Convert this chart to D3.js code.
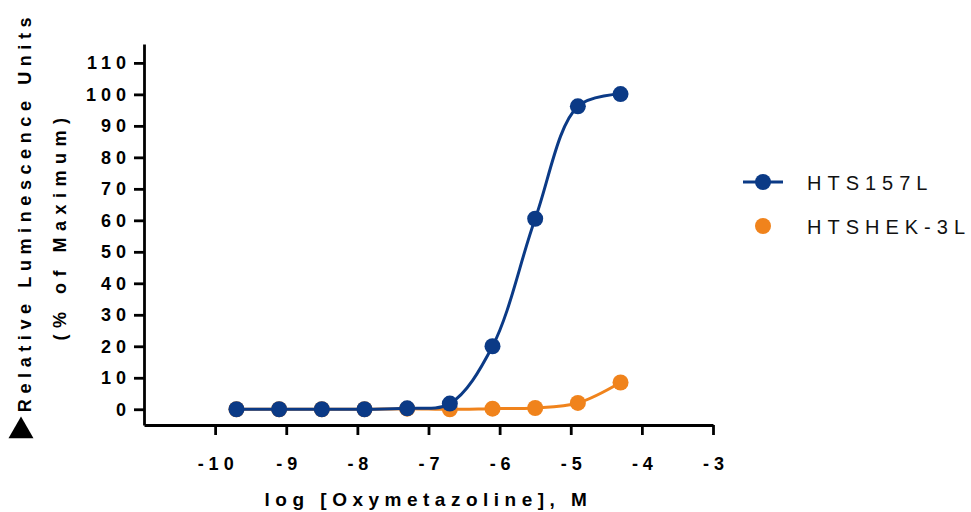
<!DOCTYPE html>
<html>
<head>
<meta charset="utf-8">
<script src="https://cdn.jsdelivr.net/npm/d3@7"></script>
<style>
  body { margin: 0; background: #fff; }
  svg { display: block; font-family: Arial, "Liberation Sans", sans-serif; }
</style>
</head>
<body>
<div id="chart"></div>
<script>
// log concentrations (M) and responses, % of maximum
const logDose = [-9.7, -9.1, -8.5, -7.9, -7.3, -6.7, -6.1, -5.5, -4.9, -4.3];
const hts157L = [0, 0, 0, 0, 0.3, 1.8, 20, 60.5, 96.2, 100.1];
const htsHek3L = [0, 0, 0, 0, 0.2, 0, 0.2, 0.4, 2.0, 8.5];
const xTicks = [-10, -9, -8, -7, -6, -5, -4, -3];
const yTicks = [0, 10, 20, 30, 40, 50, 60, 70, 80, 90, 100, 110];
const seriesNames = ["HTS157L", "HTSHEK-3L"];
const colors = ["#0b3a86", "#f0831c"];

const W = 971, H = 512;
const svg = d3.select("#chart").append("svg")
    .attr("width", W)
    .attr("height", H);

const x = d3.scaleLinear().domain([-11, -3]).range([144, 713]);
const y = d3.scaleLinear().domain([-5, 116]).range([425, 44]);

// axes
const xAxis = svg.append("g")
    .attr("transform", `translate(0,${y(-5)})`)
    .call(d3.axisBottom(x).tickValues(xTicks).tickSize(10).tickSizeOuter(0).tickPadding(22)
        .tickFormat(d3.format("d")));
const yAxis = svg.append("g")
    .attr("transform", `translate(${x(-11)},0)`)
    .call(d3.axisLeft(y).tickValues(yTicks).tickSize(10).tickSizeOuter(0).tickPadding(8));

[xAxis, yAxis].forEach(g => {
    g.select(".domain").attr("stroke", "#000").attr("stroke-width", 2.8);
    g.selectAll(".tick line").attr("stroke", "#000").attr("stroke-width", 2.8);
    g.selectAll(".tick text")
        .attr("fill", "#000")
        .style("font-size", "18px")
        .style("font-weight", "bold")
        .style("letter-spacing", "5px")
        .style("font-family", "Arial, 'Liberation Sans', sans-serif");
});
xAxis.selectAll(".tick text").attr("dx", "2.5px").text(d => d < 0 ? "-" + Math.abs(d) : d);
yAxis.selectAll(".tick text").attr("dx", "5px");

// axis titles
svg.append("text")
    .attr("x", x(-7))
    .attr("y", 506)
    .attr("text-anchor", "middle")
    .style("font-size", "19px")
    .style("font-weight", "bold")
    .style("letter-spacing", "5.5px")
    .text("log [Oxymetazoline], M");

svg.append("text")
    .attr("transform", "translate(31,212) rotate(-90)")
    .attr("text-anchor", "middle")
    .style("font-size", "18px")
    .style("font-weight", "bold")
    .style("letter-spacing", "5.6px")
    .text("Relative Luminescence Units");

svg.append("text")
    .attr("transform", "translate(66,226) rotate(-90)")
    .attr("text-anchor", "middle")
    .style("font-size", "18px")
    .style("font-weight", "bold")
    .style("letter-spacing", "6.5px")
    .text("(% of Maximum)");

svg.append("path")
    .attr("transform", "translate(21,431)")
    .attr("d", d3.symbol().type(d3.symbolTriangle).size(270)())
    .attr("fill", "#000");

// series
const allSeries = [hts157L, htsHek3L];
const line = d3.line()
    .x((d, i) => x(logDose[i]))
    .y(d => y(d))
    .curve(d3.curveCatmullRom.alpha(0.5));

[1, 0].forEach(s => {
    svg.append("path")
        .datum(allSeries[s])
        .attr("fill", "none")
        .attr("stroke", colors[s])
        .attr("stroke-width", 3)
        .attr("d", line);
    svg.selectAll(".pt" + s)
        .data(allSeries[s])
        .enter().append("circle")
        .attr("class", "pt" + s)
        .attr("cx", (d, i) => x(logDose[i]))
        .attr("cy", d => y(d))
        .attr("r", 8)
        .attr("fill", colors[s]);
});

// legend
const legend = svg.append("g").attr("transform", "translate(743,0)");
const legendY = [182, 226];
seriesNames.forEach((name, i) => {
    if (i === 0) {
        legend.append("line")
            .attr("x1", 0).attr("x2", 40)
            .attr("y1", legendY[i]).attr("y2", legendY[i])
            .attr("stroke", colors[i])
            .attr("stroke-width", 3);
    }
    legend.append("circle")
        .attr("cx", 20)
        .attr("cy", legendY[i])
        .attr("r", 8)
        .attr("fill", colors[i]);
    legend.append("text")
        .attr("x", 64)
        .attr("y", legendY[i] + 8)
        .style("font-size", "20px")
        .style("letter-spacing", "6px")
        .attr("fill", "#111")
        .text(name);
});
</script>
</body>
</html>
